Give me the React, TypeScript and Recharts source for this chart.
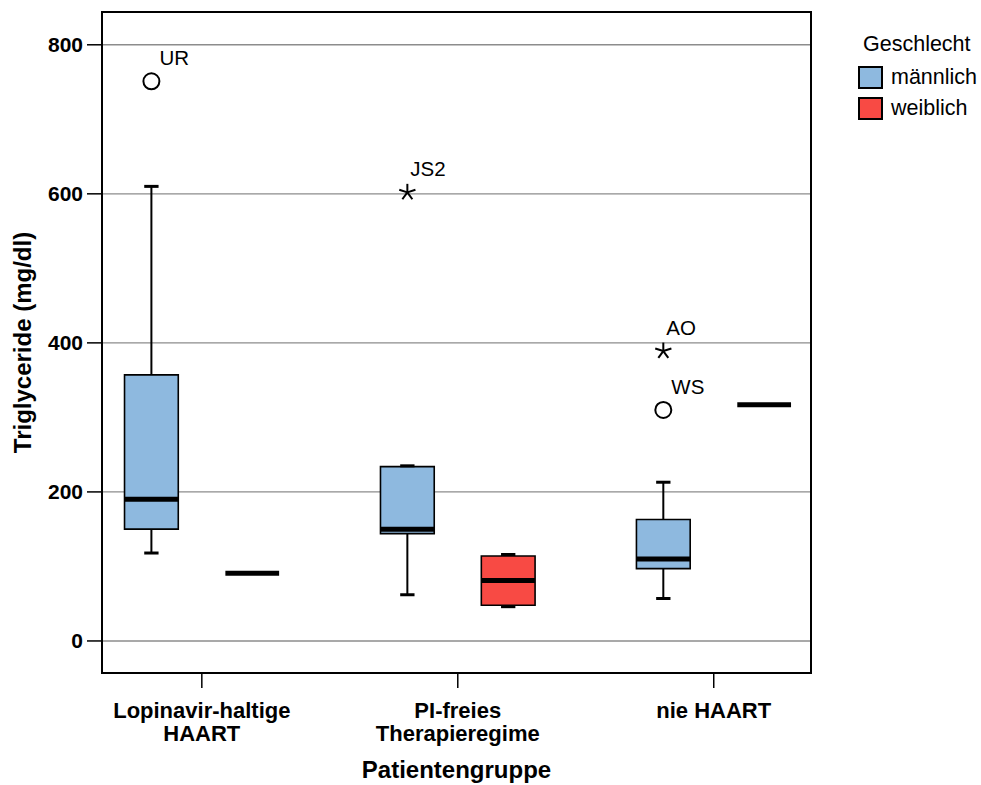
import React from "react";
import {
  ComposedChart,
  XAxis,
  YAxis,
  CartesianGrid,
  ReferenceArea,
  ReferenceLine,
  Scatter,
  Legend,
  Label,
} from "recharts";

const FONT = '"Liberation Sans", Arial, Helvetica, sans-serif';

const groups = ["Lopinavir-haltige|HAART", "PI-freies|Therapieregime", "nie HAART"];
const sexes = ["männlich", "weiblich"];
const sexColors = ["#8EB9DF", "#F84A44"];

// [min, q1, median, q3, max] per group
const maleStats = [
  [118, 150, 190, 357, 610],
  [62, 144, 150, 234, 235],
  [57, 97, 110, 163, 213],
];
const femaleStats = [
  [91, 91, 91, 91, 91],
  [46, 48, 81, 114, 116],
  [317, 317, 317, 317, 317],
];

const outlierGroups = [0, 1, 2, 2];
const outlierValues = [751, 602, 389, 310];
const outlierLabels = ["UR", "JS2", "AO", "WS"];
const outlierKinds = ["circle", "star", "star", "circle"];

const yTicks = [0, 200, 400, 600, 800];

const X_DOMAIN = [0.61, 3.38];
const Y_DOMAIN = [-43, 844];
const SEX_OFFSET = [-0.197, 0.197];
const BOX_HALF = 0.105;
const CAP_HALF = 0.028;

const outlierData = outlierValues.map((v, i) => ({
  x: outlierGroups[i] + 1 + SEX_OFFSET[0],
  y: v,
  label: outlierLabels[i],
  kind: outlierKinds[i],
}));

function XTick(props: any) {
  const { x, y, payload } = props;
  const lines = groups[payload.value - 1].split("|");
  return (
    <text x={x} y={y} textAnchor="middle" fontFamily={FONT} fontWeight="bold" fontSize={22} fill="#000">
      {lines.map((l, i) => (
        <tspan key={i} x={x} dy={i === 0 ? 30 : 23}>
          {l}
        </tspan>
      ))}
    </text>
  );
}

function OutlierShape(props: any) {
  const { cx, cy, payload } = props;
  const dx = payload.kind === "circle" ? 8 : 3;
  let mark;
  if (payload.kind === "circle") {
    mark = <circle cx={cx} cy={cy} r={8} fill="none" stroke="#000" strokeWidth={2} />;
  } else {
    const r = 8.5;
    const arms = [-90, -18, 54, 126, 198].map((a) => {
      const rad = (a * Math.PI) / 180;
      return (
        <line
          key={a}
          x1={cx}
          y1={cy}
          x2={cx + r * Math.cos(rad)}
          y2={cy + r * Math.sin(rad)}
          stroke="#000"
          strokeWidth={2}
        />
      );
    });
    mark = <g>{arms}</g>;
  }
  return (
    <g>
      {mark}
      <text x={cx + dx} y={cy - 16} fontFamily={FONT} fontSize={20.5} fill="#000">
        {payload.label}
      </text>
    </g>
  );
}

function LegendBox() {
  return (
    <div style={{ position: "relative", width: 131, height: 100, fontFamily: FONT, fontSize: 21.5, color: "#000" }}>
      <div style={{ position: "absolute", left: 13, top: 2, lineHeight: "24px", whiteSpace: "nowrap" }}>Geschlecht</div>
      {sexes.map((s, i) => (
        <div key={s} style={{ position: "absolute", left: 8, top: 36 + i * 31, height: 23, display: "flex" }}>
          <div
            style={{
              width: 25,
              height: 23,
              boxSizing: "border-box",
              border: "2px solid #000",
              background: sexColors[i],
            }}
          />
          <div style={{ marginLeft: 8, lineHeight: "23px", whiteSpace: "nowrap" }}>{s}</div>
        </div>
      ))}
    </div>
  );
}

function boxElements(stats: number[][], sexIdx: number) {
  const els: any[] = [];
  stats.forEach((st, g) => {
    const [mn, q1, med, q3, mx] = st;
    const c = g + 1 + SEX_OFFSET[sexIdx];
    const key = `${sexIdx}-${g}`;
    if (mx > q3) {
      els.push(
        <ReferenceLine key={`uw${key}`} segment={[{ x: c, y: q3 }, { x: c, y: mx }]} stroke="#000" strokeWidth={2} />
      );
    }
    if (q1 > mn) {
      els.push(
        <ReferenceLine key={`lw${key}`} segment={[{ x: c, y: mn }, { x: c, y: q1 }]} stroke="#000" strokeWidth={2} />
      );
    }
    if (mx > q3 || q3 > q1) {
      els.push(
        <ReferenceLine
          key={`uc${key}`}
          segment={[{ x: c - CAP_HALF, y: mx }, { x: c + CAP_HALF, y: mx }]}
          stroke="#000"
          strokeWidth={3}
        />
      );
      els.push(
        <ReferenceLine
          key={`lc${key}`}
          segment={[{ x: c - CAP_HALF, y: mn }, { x: c + CAP_HALF, y: mn }]}
          stroke="#000"
          strokeWidth={3}
        />
      );
    }
    if (q3 > q1) {
      els.push(
        <ReferenceArea
          key={`bx${key}`}
          x1={c - BOX_HALF}
          x2={c + BOX_HALF}
          y1={q1}
          y2={q3}
          fill={sexColors[sexIdx]}
          fillOpacity={1}
          stroke="#000"
          strokeWidth={1.6}
        />
      );
    }
    els.push(
      <ReferenceLine
        key={`md${key}`}
        segment={[{ x: c - BOX_HALF, y: med }, { x: c + BOX_HALF, y: med }]}
        stroke="#000"
        strokeWidth={5}
      />
    );
  });
  return els;
}

export default function App() {
  return (
    <div style={{ position: "absolute", left: 0, top: 0, width: 981, height: 785, background: "#fff" }}>
      <ComposedChart width={981} height={785} margin={{ top: 12, right: 170, bottom: 22, left: 0 }}>
        <CartesianGrid vertical={false} stroke="#8c8c8c" strokeWidth={1.4} />
        <XAxis
          type="number"
          dataKey="x"
          domain={X_DOMAIN}
          ticks={[1, 2, 3]}
          interval={0}
          allowDataOverflow
          height={90}
          axisLine={false}
          tickLine={{ stroke: "#000", strokeWidth: 1.5 }}
          tickSize={15}
          tickMargin={0}
          tick={<XTick />}
        >
          <Label
            content={(p: any) => {
              const vb = p.viewBox;
              return (
                <text
                  x={vb.x + vb.width / 2}
                  y={778}
                  textAnchor="middle"
                  fontFamily={FONT}
                  fontWeight="bold"
                  fontSize={24}
                  fill="#000"
                >
                  Patientengruppe
                </text>
              );
            }}
          />
        </XAxis>
        <YAxis
          type="number"
          dataKey="y"
          domain={Y_DOMAIN}
          ticks={yTicks}
          allowDataOverflow
          width={102}
          axisLine={false}
          tickLine={{ stroke: "#000", strokeWidth: 1.5 }}
          tickSize={15}
          tickMargin={4}
          tick={{ fill: "#000", fontSize: 21, fontWeight: "bold", fontFamily: FONT }}
        >
          <Label
            content={(p: any) => {
              const vb = p.viewBox;
              const cy = vb.y + vb.height / 2;
              return (
                <text
                  x={31}
                  y={cy}
                  transform={`rotate(-90, 31, ${cy})`}
                  textAnchor="middle"
                  fontFamily={FONT}
                  fontWeight="bold"
                  fontSize={24}
                  fill="#000"
                >
                  Triglyceride (mg/dl)
                </text>
              );
            }}
          />
        </YAxis>
        {boxElements(maleStats, 0)}
        {boxElements(femaleStats, 1)}
        <Scatter data={outlierData} dataKey="y" shape={<OutlierShape />} isAnimationActive={false} />
        <ReferenceArea
          x1={X_DOMAIN[0]}
          x2={X_DOMAIN[1]}
          y1={Y_DOMAIN[0]}
          y2={Y_DOMAIN[1]}
          fill="none"
          stroke="#000"
          strokeWidth={2}
        />
        <Legend
          layout="vertical"
          align="center"
          verticalAlign="middle"
          content={() => <LegendBox />}
          wrapperStyle={{ position: "absolute", left: 850, top: 30, width: 131, height: 100 }}
        />
      </ComposedChart>
    </div>
  );
}
